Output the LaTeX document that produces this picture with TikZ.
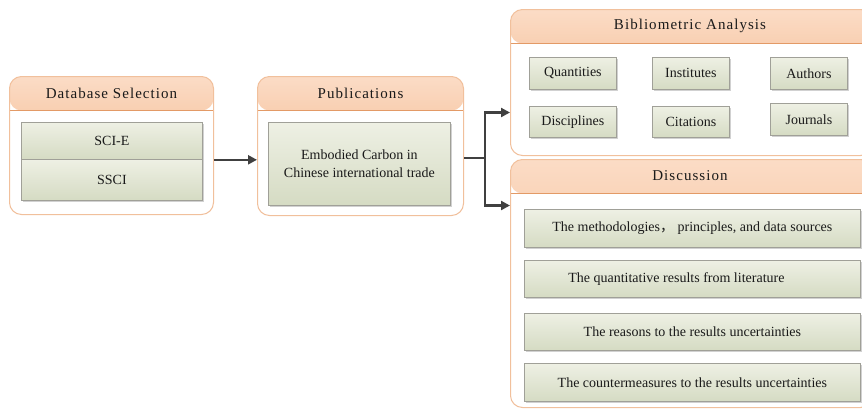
\documentclass[tikz,border=0pt]{standalone}
\usepackage{fontspec}
\setmainfont{Liberation Serif}
\newfontfamily\cjk{Noto Sans CJK SC}
\usetikzlibrary{shadows,arrows.meta}
\definecolor{pborder}{HTML}{F1C09C}
\definecolor{htop}{HTML}{FBDCC6}
\definecolor{hbot}{HTML}{F2A873}
\definecolor{hline}{HTML}{E39A66}
\definecolor{itop}{HTML}{EEF0E4}
\definecolor{ibot}{HTML}{D5DBC3}
\definecolor{iborder}{HTML}{A0A098}
\definecolor{arrowc}{HTML}{404040}
\definecolor{txt}{HTML}{1A1A1A}
\tikzset{
  panel/.style={draw=pborder, line width=1pt, rounded corners=12pt, fill=white,
    anchor=north west, inner sep=0pt, minimum width=#1,
    path picture={
      \shade[top color=htop, bottom color=hbot]
        (path picture bounding box.north west) rectangle
        ([yshift=-34pt]path picture bounding box.north east);
      \draw[hline, line width=0.8pt]
        ([yshift=-34pt]path picture bounding box.north west) --
        ([yshift=-34pt]path picture bounding box.north east);
    }},
  hdr/.style={font=\fontsize{15}{18}\selectfont\addfontfeatures{LetterSpace=7}, text=txt},
  item/.style={draw=iborder, line width=0.8pt, top color=itop, bottom color=ibot,
    drop shadow={shadow xshift=1.3pt, shadow yshift=-1.3pt, fill=black!40, opacity=0.45},
    font=\fontsize{14}{18}\selectfont, text=txt, anchor=north west, inner sep=0pt, align=center},
  conn/.style={draw=arrowc, line width=2.2pt, -{Triangle[length=9pt,width=9pt]}},
  plain/.style={draw=arrowc, line width=2.2pt}
}
\begin{document}
\begin{tikzpicture}[x=1pt,y=-1pt]
\useasboundingbox (0,0) rectangle (862,408);
\clip (0,0) rectangle (862,408);
\fill[white] (0,0) rectangle (862,408);

% panels
\node[panel=204pt, minimum height=138pt] (db) at (9,76) {};
\node[hdr] (dbh) at ([yshift=-17pt]db.north) {Database Selection};
\node[panel=206pt, minimum height=139pt] (pub) at (257,76) {};
\node[hdr] (pubh) at ([yshift=-17pt]pub.north) {Publications};
\node[panel=362pt, minimum height=146pt] (bib) at (510,9) {};
\node[hdr] (bibh) at (690,26) {Bibliometric Analysis};
\node[panel=362pt, minimum height=248pt] (dis) at (510,159) {};
\node[hdr] (dish) at (690,176) {Discussion};

% database items
\node[item, minimum width=181pt, minimum height=37pt] (sci) at (21,122) {SCI-E};
\node[item, minimum width=181pt, minimum height=41pt] (ssci) at (21,159) {SSCI};

% publications item
\node[item, minimum width=182pt, minimum height=83pt] (emb) at (268,122)
  {Embodied Carbon in\\Chinese international trade};

% bibliometric items
\node[item, minimum width=87pt, minimum height=32pt] (qua) at (529,57) {Quantities};
\node[item, minimum width=77pt, minimum height=32pt] (ins) at (652,57) {Institutes};
\node[item, minimum width=77pt, minimum height=32pt] (aut) at (770,57) {Authors};
\node[item, minimum width=87pt, minimum height=31pt] (dsc) at (529,106) {Disciplines};
\node[item, minimum width=77pt, minimum height=31pt] (cit) at (652,106) {Citations};
\node[item, minimum width=77pt, minimum height=32pt] (jou) at (770,103) {Journals};

% discussion items
\node[item, minimum width=336pt, minimum height=38pt] (d1) at (524,209)
  {The methodologies{\cjk ，} principles, and data sources};
\node[item, minimum width=336pt, minimum height=37pt] (d2) at (524,260)
  {\hspace*{0pt}The quantitative results from literature\hspace*{32pt}};
\node[item, minimum width=336pt, minimum height=37pt] (d3) at (524,313)
  {The reasons to the results uncertainties};
\node[item, minimum width=336pt, minimum height=38pt] (d4) at (524,363)
  {The countermeasures to the results uncertainties};

% connectors
\coordinate (split) at (485,158);
\draw[conn] (db.east |- sci.south) -- (pub.west |- sci.south);
\draw[plain] (pub.east |- split) -- (split);
\draw[conn] (split) |- ([yshift=-30pt]bib.west);
\draw[conn] (split) |- ([yshift=78pt]dis.west);
\end{tikzpicture}
\end{document}
